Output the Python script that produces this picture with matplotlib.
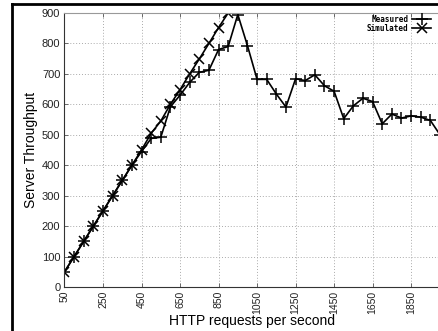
import numpy as np
import matplotlib
matplotlib.use('Agg')
import matplotlib.pyplot as plt
from matplotlib.lines import Line2D

# request rate (HTTP requests per second)
req_measured = [50, 100, 150, 200, 250, 300, 350, 400, 450, 500,
                550, 600, 650, 700, 750, 800, 850, 900, 950, 1000,
                1050, 1100, 1150, 1200, 1250, 1300, 1350, 1400, 1450, 1500,
                1550, 1600, 1650, 1700, 1750, 1800, 1850, 1900, 1950, 2000]
thr_measured = [50, 100, 150, 200, 250, 300, 350, 400, 445, 488,
                492, 592, 630, 672, 705, 712, 780, 790, 895, 793,
                682, 682, 634, 591, 684, 678, 697, 661, 643, 553,
                595, 620, 609, 536, 568, 555, 562, 558, 547, 500]

req_simulated = [50, 100, 150, 200, 250, 300, 350, 400, 450, 500,
                 550, 600, 650, 700, 750, 800, 850, 900]
thr_simulated = [50, 100, 150, 200, 250, 300, 350, 400, 450, 505,
                 545, 600, 648, 700, 749, 800, 852, 900]

xticks = [50, 250, 450, 650, 850, 1050, 1250, 1450, 1650, 1850]
yticks = [0, 100, 200, 300, 400, 500, 600, 700, 800, 900]

plt.rcParams['font.family'] = ['Liberation Sans', 'DejaVu Sans']

fig = plt.figure(figsize=(4.39, 3.31), dpi=100)
ax = fig.add_axes([64.5 / 439, 44 / 331, 375.5 / 439, 274 / 331])

ax.plot(req_measured, thr_measured, color='black', lw=1.2, marker='+',
        ms=9, mew=1.1, label='Measured')
ax.plot(req_simulated, thr_simulated, color='black', lw=1.2, marker='x',
        ms=7, mew=1.1, label='Simulated')

ax.set_xlim(50, 2000)
ax.set_ylim(0, 900)
ax.set_xticks(xticks)
ax.set_yticks(yticks)
ax.set_xticklabels([str(t) for t in xticks], rotation=90, fontsize=7.5)
ax.set_yticklabels([str(t) for t in yticks], fontsize=8)
ax.tick_params(direction='in', length=3, width=0.6, top=True, right=False,
               color='#555555', labelcolor='#222222', pad=3)
ax.tick_params(axis='x', pad=2.5)

ax.grid(True, ls=(0, (1, 2)), color='#aaaaaa', lw=0.7)

ax.spines['right'].set_visible(False)
ax.spines['top'].set_color('#999999')
ax.spines['left'].set_color('#333333')
ax.spines['bottom'].set_color('#333333')
for s in ax.spines.values():
    s.set_linewidth(0.8)

ax.set_xlabel('HTTP requests per second', fontsize=10, labelpad=0)
ax.set_ylabel('Server Throughput', fontsize=10, labelpad=3)

leg = ax.legend(loc='upper right', bbox_to_anchor=(433 / 439, 1 - 13 / 331),
                bbox_transform=fig.transFigure, frameon=False,
                markerfirst=False, handlelength=2.6, handletextpad=0.4,
                labelspacing=0.05, borderaxespad=0, borderpad=0.2,
                prop={'family': 'DejaVu Sans Mono', 'weight': 'bold', 'size': 5.5})

# black frame along the top and left edges
fig.add_artist(Line2D([12 / 439, 1.0], [1 - 4 / 331, 1 - 4 / 331],
                      transform=fig.transFigure, color='black', lw=2))
fig.add_artist(Line2D([12 / 439, 12 / 439], [1 - 4 / 331, 0],
                      transform=fig.transFigure, color='black', lw=2))

fig.savefig('out.png', dpi=100)
